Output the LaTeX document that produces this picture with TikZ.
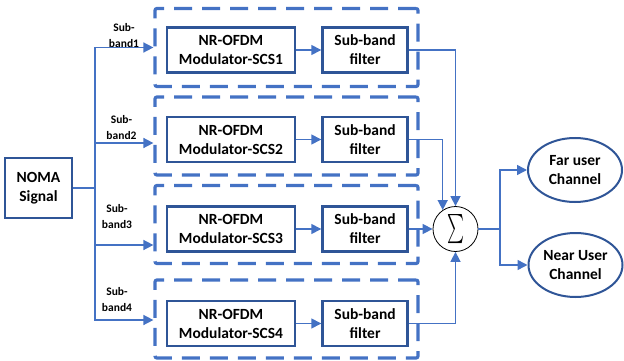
\documentclass[tikz,border=0pt]{standalone}
\usepackage{fontspec}
\setmainfont{Carlito}
\usepackage{graphicx}
\usetikzlibrary{positioning, shapes.geometric, arrows.meta}
\definecolor{lineblue}{RGB}{68,114,196}
\definecolor{boxblue}{RGB}{47,85,151}

\begin{document}
\begin{tikzpicture}[x=1pt, y=-1pt, >={Triangle[length=10pt,width=10pt]},
  font=\fontsize{15.5}{19}\selectfont\bfseries,
  block/.style={draw=boxblue, line width=2.6pt, align=center, inner sep=2pt, minimum height=45pt},
  group/.style={draw=lineblue, line width=3.2pt, dash pattern=on 18pt off 10pt, rounded corners=2pt,
    minimum width=263pt, minimum height=78pt, inner sep=0pt},
  link/.style={draw=lineblue, line width=1.5pt},
  lbl/.style={align=center, font=\fontsize{11.5}{16}\selectfont\bfseries, inner sep=0pt},
  usr/.style={ellipse, draw=boxblue, line width=2pt, align=center, minimum width=94pt, minimum height=64pt, inner sep=0pt}]
  \useasboundingbox (0,0) rectangle (624,361);

  % dashed sub-band groups
  \node[group] (grp1) at (286.5,47.5) {};
  \node[group] (grp2) at (286.5,136) {};
  \node[group] (grp3) at (286.5,224.5) {};
  \node[group] (grp4) at (286.5,319) {};

  % modulators and filters
  \node[block, minimum width=128pt] (m1) at (231,50) {NR-OFDM\\Modulator-SCS1};
  \node[block, minimum width=85pt, right=25pt of m1] (f1) {Sub-band\\filter};
  \node[block, minimum width=128pt] (m2) at (231,139.5) {NR-OFDM\\Modulator-SCS2};
  \node[block, minimum width=85pt, right=25pt of m2] (f2) {Sub-band\\filter};
  \node[block, minimum width=128pt] (m3) at (231,229) {NR-OFDM\\Modulator-SCS3};
  \node[block, minimum width=85pt, right=25pt of m3] (f3) {Sub-band\\filter};
  \node[block, minimum width=128pt] (m4) at (231,323.5) {NR-OFDM\\Modulator-SCS4};
  \node[block, minimum width=85pt, right=25pt of m4] (f4) {Sub-band\\filter};

  % input
  \node[block, minimum width=67pt, minimum height=60pt] (noma) at (38.5,188) {NOMA\\Signal};
  \coordinate (spl) at (95,188);

  % sum and users
  \node[circle, draw=black, line width=0.8pt, fill=white, minimum size=45pt, inner sep=0pt] (sum) at (455.5,229)
    {\resizebox{17pt}{25pt}{$\sum$}};
  \coordinate (jn) at (500,229);
  \node[usr] (far) at (575,170) {Far user\\Channel};
  \node[usr] (near) at (575.5,265) {Near User\\Channel};

  % band labels
  \node[lbl] (s1) at (124,36) {Sub-\\band1};
  \node[lbl] (s2) at (121.5,128) {Sub-\\band2};
  \node[lbl] (s3) at (117,216.5) {Sub-\\band3};
  \node[lbl] (s4) at (117,300) {Sub-\\band4};

  % connectors
  \draw[link] (noma.east) -- (spl);
  \draw[link,->] (spl) |- (grp1.west);
  \draw[link,->] (spl) |- ([yshift=-7pt]grp2.west);
  \draw[link,->] (spl) |- ([yshift=-20.5pt]grp3.west);
  \draw[link,->] (spl) |- ([yshift=-1pt]grp4.west);

  \draw[link,->] (m1) -- (f1);
  \draw[link,->] (m2) -- (f2);
  \draw[link,->] (m3) -- (f3);
  \draw[link,->] (m4) -- (f4);

  \draw[link,->] (f1.east) -| (sum.north);
  \draw[link,->] (f2.east) -| (sum.124);
  \draw[link,->] (f3) -- (sum);
  \draw[link,->] (f4.east) -| (sum.south);

  \draw[link] (sum.east) -- (jn);
  \draw[link,->] (jn) |- (far.west);
  \draw[link,->] (jn) |- (near.west);
\end{tikzpicture}
\end{document}
